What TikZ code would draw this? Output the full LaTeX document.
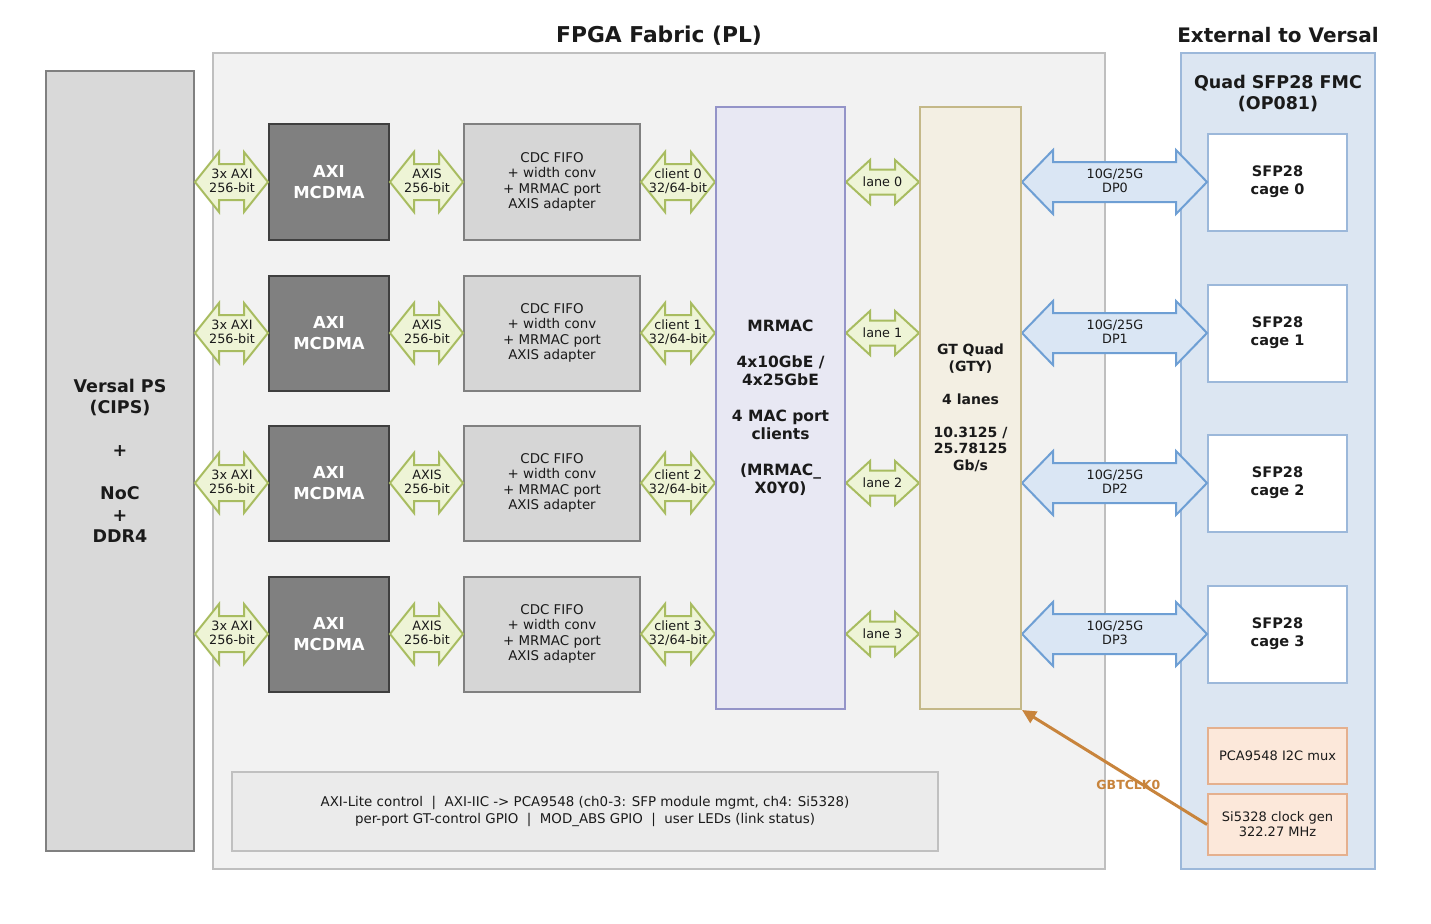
\documentclass[tikz,border=0pt]{standalone}
\usepackage{fontspec}
\setmainfont{DejaVu Sans}
\usetikzlibrary{arrows.meta}
\definecolor{fpgaF}{HTML}{F2F2F2}\definecolor{fpgaD}{HTML}{BFBFBF}
\definecolor{extF}{HTML}{DCE6F2}\definecolor{extD}{HTML}{9CB8DA}
\definecolor{psF}{HTML}{D9D9D9}\definecolor{psD}{HTML}{808080}
\definecolor{dmaF}{HTML}{808080}\definecolor{dmaD}{HTML}{3F3F3F}
\definecolor{cdcF}{HTML}{D6D6D6}\definecolor{cdcD}{HTML}{808080}
\definecolor{macF}{HTML}{E8E8F3}\definecolor{macD}{HTML}{9494C8}
\definecolor{gtF}{HTML}{F3EFE3}\definecolor{gtD}{HTML}{C4B888}
\definecolor{pcaF}{HTML}{FCE8DA}\definecolor{pcaD}{HTML}{E5B08E}
\definecolor{ctlF}{HTML}{EBEBEB}\definecolor{ctlD}{HTML}{C0C0C0}
\definecolor{grF}{HTML}{EEF4D6}\definecolor{grD}{HTML}{A8BC60}
\definecolor{blF}{HTML}{DAE6F4}\definecolor{blD}{HTML}{6E9FD4}
\definecolor{clk}{HTML}{C8843C}
\definecolor{txt}{HTML}{1A1A1A}
\newcommand\fs[2]{\fontsize{#1}{#2}\selectfont}
% double arrow: style, x1, x2, yc, head length, half head, half shaft
\newcommand\dblarr[7]{%
  \draw[#1] (#2,#4) -- (#2+#5,#4-#6) -- (#2+#5,#4-#7) -- (#3-#5,#4-#7) -- (#3-#5,#4-#6) -- (#3,#4)
    -- (#3-#5,#4+#6) -- (#3-#5,#4+#7) -- (#2+#5,#4+#7) -- (#2+#5,#4+#6) -- cycle;}
\tikzset{
  box/.style={draw, line width=2pt, minimum width=#1, inner sep=0pt, align=center, text=txt},
  grarr/.style={fill=grF, draw=grD, line width=2pt, line join=miter},
  blarr/.style={fill=blF, draw=blD, line width=2pt, line join=miter},
  albl/.style={font=\fs{12.8}{14}, text=txt, align=center, inner sep=0pt},
}
\begin{document}
\begin{tikzpicture}[x=1pt,y=-1pt]
\useasboundingbox (0,0) rectangle (1431,923);
\fill[white] (0,0) rectangle (1431,923);
% titles
\node[font=\fs{21.8}{24}\bfseries, text=txt] (t1) at (659,35.5) {FPGA Fabric (PL)};
\node[font=\fs{20}{24}\bfseries, text=txt] (t2) at (1278,35) {External to Versal};
% containers
\node[box=892pt, minimum height=816pt, fill=fpgaF, draw=fpgaD] (fpga) at (659,461) {};
\node[box=194pt, minimum height=816pt, fill=extF, draw=extD] (ext) at (1278,461) {};
\node[font=\fs{17.5}{21}\bfseries, text=txt, align=center] (extl) at (1278,94) {Quad SFP28 FMC\\(OP081)};
\node[box=148pt, minimum height=780pt, fill=psF, draw=psD, font=\fs{17.5}{21.5}\bfseries] (ps) at (120,461)
  {Versal PS\\(CIPS)\\[21.5pt]+\\[21.5pt]NoC\\+\\DDR4};
% per-row blocks
\foreach \i/\y in {0/182,1/333,2/483,3/634}{
  \node[box=120pt, minimum height=115pt, fill=dmaF, draw=dmaD, text=white, font=\fs{16.5}{21}\bfseries] (dma\i) at (329,\y) {AXI\\MCDMA};
  \node[box=176pt, minimum height=115pt, fill=cdcF, draw=cdcD, font=\fs{13.4}{15.3}] (cdc\i) at (552,\y)
    {CDC FIFO\\+ width conv\\+ MRMAC port\\AXIS adapter};
  \node[box=139pt, minimum height=97pt, fill=white, draw=extD, font=\fs{14.5}{18}\bfseries] (sfp\i) at (1277.5,\y) {SFP28\\cage \i};
  \dblarr{grarr}{195}{268}{\y}{24}{30}{18}
  \node[albl] (ax\i) at (232,\y-1) {3x AXI\\256-bit};
  \dblarr{grarr}{390}{463}{\y}{24}{30}{18}
  \node[albl] (as\i) at (427,\y-1) {AXIS\\256-bit};
  \dblarr{grarr}{641}{715}{\y}{24}{30}{18}
  \node[albl] (cl\i) at (678,\y-1) {client \i\\32/64-bit};
  \dblarr{grarr}{846}{919}{\y}{24}{22}{12.5}
  \node[albl] (ln\i) at (882.5,\y) {lane \i};
  \dblarr{blarr}{1022}{1207}{\y}{31}{32}{20}
  \node[albl] (dp\i) at (1115,\y-1) {10G/25G\\DP\i};
}
\node[box=129pt, minimum height=602pt, fill=macF, draw=macD, font=\fs{15.5}{18}\bfseries] (mac) at (780.5,408)
  {MRMAC\\[18pt]4x10GbE /\\4x25GbE\\[18pt]4 MAC port\\clients\\[18pt](MRMAC\_\\X0Y0)};
\node[box=101pt, minimum height=602pt, fill=gtF, draw=gtD, font=\fs{14}{16.5}\bfseries] (gt) at (970.5,408)
  {GT Quad\\(GTY)\\[16.5pt]4 lanes\\[16.5pt]10.3125 /\\25.78125\\Gb/s};
\node[box=139pt, minimum height=56pt, fill=pcaF, draw=pcaD, font=\fs{13}{15}] (pca) at (1277.5,756) {PCA9548 I2C mux};
\node[box=139pt, minimum height=61pt, fill=pcaF, draw=pcaD, font=\fs{13}{15}] (si) at (1277.5,824.5) {Si5328 clock gen\\322.27 MHz};
\node[box=706pt, minimum height=79pt, fill=ctlF, draw=ctlD, font=\fs{13.4}{17}] (ctl) at (585,811.5)
  {AXI-Lite control\ \ |\ \ AXI-IIC -> PCA9548 (ch0-3: SFP module mgmt, ch4: Si5328)\\per-port GT-control GPIO\ \ |\ \ MOD\_ABS GPIO\ \ |\ \ user LEDs (link status)};
\draw[clk, line width=3pt, -{Triangle[length=14pt,width=13pt]}] (si.west) -- (gt.south east)
  node[pos=0.425, yshift=-9pt, font=\fs{12.5}{14}\bfseries, text=clk] (gbl) {GBTCLK0};
\end{tikzpicture}
\end{document}
